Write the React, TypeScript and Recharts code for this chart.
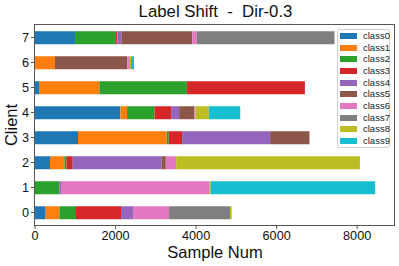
import React from "react";
import { Bar, BarChart, XAxis, YAxis } from "recharts";

const clients = ["0", "1", "2", "3", "4", "5", "6", "7"];
const classNames = ["class0", "class1", "class2", "class3", "class4", "class5", "class6", "class7", "class8", "class9"];
const colors = ["#1f77b4", "#ff7f0e", "#2ca02c", "#d62728", "#9467bd", "#8c564b", "#e377c2", "#7f7f7f", "#bcbd22", "#17becf"];

// samples per class, one entry per client 0..7
const class0 = [248, 0, 373, 1068, 2120, 116, 0, 994];
const class1 = [356, 0, 356, 2203, 166, 1483, 497, 0];
const class2 = [414, 605, 50, 50, 679, 2171, 0, 1020];
const class3 = [1118, 0, 158, 331, 414, 2932, 0, 30];
const class4 = [298, 41, 2203, 2186, 199, 0, 0, 100];
const class5 = [0, 0, 108, 977, 373, 0, 1797, 1764];
const class6 = [894, 3677, 257, 0, 33, 0, 40, 110];
const class7 = [1516, 0, 0, 0, 0, 0, 0, 3419];
const class8 = [40, 40, 4563, 0, 332, 0, 50, 0];
const class9 = [0, 4084, 0, 0, 780, 0, 75, 0];

const xTicks = [0, 2000, 4000, 6000, 8000];

const series = [class0, class1, class2, class3, class4, class5, class6, class7, class8, class9];
const data = clients.map((c, i) => {
  const row: Record<string, string | number> = { client: c };
  classNames.forEach((k, j) => (row[k] = series[j][i]));
  return row;
});

const font = "'Liberation Sans', Arial, sans-serif";

function Legend() {
  return (
    <div
      style={{
        position: "absolute",
        left: 337,
        top: 29,
        width: 53,
        height: 119,
        boxSizing: "border-box",
        border: "1px solid #d0d0d0",
        borderRadius: 2,
        background: "rgba(255,255,255,0.8)",
      }}
    >
      {classNames.map((name, i) => (
        <div key={name} style={{ position: "absolute", left: 0, top: 6 + i * 11.67 - 5, height: 10, width: 52 }}>
          <div style={{ position: "absolute", left: 2, top: 2, width: 17, height: 6, background: colors[i] }} />
          <div style={{ position: "absolute", left: 25, top: 0, fontSize: 9.5, lineHeight: "10px", color: "#222" }}>{name}</div>
        </div>
      ))}
    </div>
  );
}

export default function App() {
  return (
    <div style={{ position: "absolute", left: 0, top: 0, width: 399, height: 266, background: "#fff", fontFamily: font }}>
      <BarChart
        width={399}
        height={266}
        data={data}
        layout="vertical"
        margin={{ top: 25, right: 5, bottom: 0, left: 0 }}
        barCategoryGap="25%"
      >
        <XAxis
          type="number"
          domain={[0, 8914]}
          ticks={xTicks}
          allowDataOverflow
          height={41}
          axisLine={false}
          tickLine={{ stroke: "#555" }}
          tickSize={4}
          tick={{ fill: "#111", fontSize: 12.7, fontFamily: font }}
        />
        <YAxis
          type="category"
          dataKey="client"
          reversed
          width={35}
          axisLine={false}
          tickLine={{ stroke: "#555" }}
          tickSize={4}
          tick={{ fill: "#111", fontSize: 12.7, fontFamily: font }}
        />
        {classNames.map((k, i) => (
          <Bar key={k} dataKey={k} stackId="a" fill={colors[i]} isAnimationActive={false} />
        ))}
      </BarChart>
      <div
        style={{
          position: "absolute",
          left: 34,
          top: 24,
          width: 361,
          height: 202,
          boxSizing: "border-box",
          border: "1px solid #555",
          pointerEvents: "none",
        }}
      />
      <Legend />
      <div
        style={{ position: "absolute", left: 0, width: 431, top: 4, textAlign: "center", fontSize: 16.8, lineHeight: "16px", color: "#111", whiteSpace: "pre" }}
      >
        {"Label Shift  -  Dir-0.3"}
      </div>
      <div
        style={{ position: "absolute", left: 0, width: 430, top: 244, textAlign: "center", fontSize: 16.5, lineHeight: "16px", color: "#111" }}
      >
        Sample Num
      </div>
      <div
        style={{
          position: "absolute",
          left: 11,
          top: 125,
          transform: "translate(-50%, -50%) rotate(-90deg)",
          fontSize: 16.5,
          lineHeight: "16px",
          color: "#111",
          whiteSpace: "nowrap",
        }}
      >
        Client
      </div>
    </div>
  );
}
